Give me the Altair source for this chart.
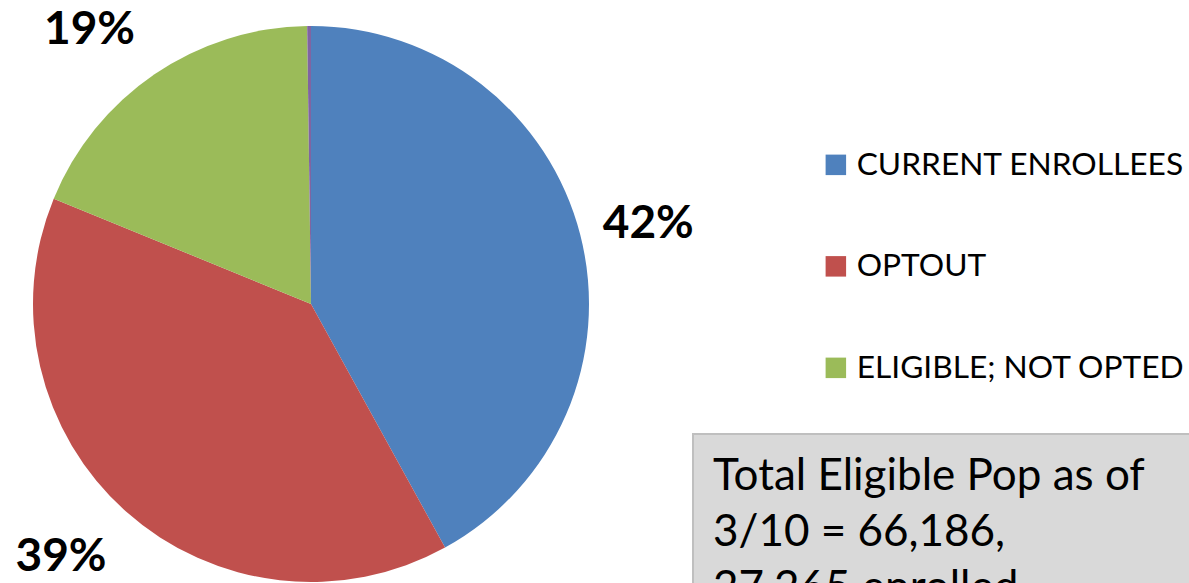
import altair as alt
import pandas as pd

categories = ["CURRENT ENROLLEES", "OPTOUT", "ELIGIBLE; NOT OPTED", "OTHER"]
shares = [42.0, 39.2, 18.6, 0.22]
labels = ["42%", "39%", "19%", ""]
colors = ["#4F81BD", "#C0504D", "#9BBB59", "#8064A2"]
note_lines = ["Total Eligible Pop as of", "3/10 = 66,186,", "27,265 enrolled"]

df = pd.DataFrame({"cat": categories, "share": shares, "label": labels,
                   "idx": list(range(len(categories)))})

CX, CY, R = 311, 304, 278
total = float(sum(shares))
theta_scale = alt.Scale(domain=[0, total])
# label offsets (styling) from the slice's mid-angle point on the rim
label_offsets = {"CURRENT ENROLLEES": (68, -11), "OPTOUT": (-65, 45),
                 "ELIGIBLE; NOT OPTED": (-65, -44)}

pie = alt.Chart(df).mark_arc(radius=R).encode(
    theta=alt.Theta("share:Q", stack=True, scale=theta_scale),
    order=alt.Order("idx:Q"),
    x=alt.value(CX), y=alt.value(CY),
    color=alt.Color(
        "cat:N",
        scale=alt.Scale(domain=categories, range=colors),
        legend=alt.Legend(
            title=None, values=categories[:3], orient="none",
            legendX=820, legendY=149, symbolType="square", symbolSize=420,
            symbolStrokeWidth=0, labelFont="Lato", labelFontSize=31.7,
            labelColor="#000000", rowPadding=68.5, labelOffset=5, padding=0,
            labelLimit=600,
        ),
    ),
)

stacked = alt.Chart(df).transform_window(
    cum="sum(share)", sort=[alt.SortField("idx")], frame=[None, 0]
).transform_calculate(mid="datum.cum - datum.share / 2")

pct_layers = []
for cat, (ddx, ddy) in label_offsets.items():
    pct_layers.append(
        stacked.transform_filter(alt.datum.cat == cat).mark_text(
            radius=R, dx=ddx, dy=ddy, font="Lato", fontSize=46,
            fontWeight="bold", color="#000000"
        ).encode(
            theta=alt.Theta("mid:Q", stack=None, scale=theta_scale),
            x=alt.value(CX), y=alt.value(CY),
            text="label:N",
        )
    )

box = alt.Chart(pd.DataFrame({"a": [0]})).mark_rect(
    fill="#D9D9D9", stroke="#BFBFBF", strokeWidth=2
).encode(x=alt.value(693), x2=alt.value(1210), y=alt.value(434), y2=alt.value(620))

note = alt.Chart(pd.DataFrame({"a": [0]})).mark_text(
    text=note_lines, align="left", baseline="alphabetic", font="Lato",
    fontSize=44, lineHeight=56, color="#000000"
).encode(x=alt.value(713), y=alt.value(490))

chart = alt.layer(pie, *pct_layers, box, note).properties(
    width=1189, height=583, autosize=alt.AutoSizeParams(type="none"), padding=0
).configure_view(stroke=None)

chart.save("out.html", embed_options={"renderer": "svg", "actions": False})
